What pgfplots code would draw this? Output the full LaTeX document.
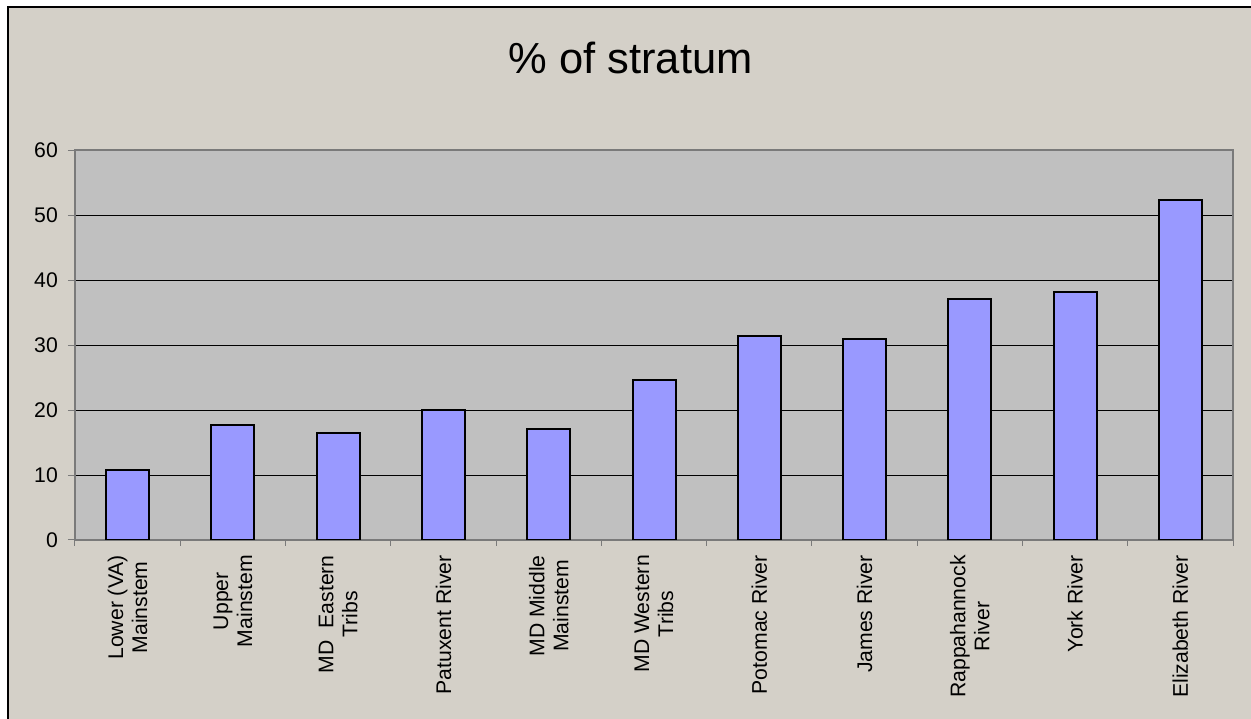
\documentclass[border=0pt]{standalone}
\usepackage{fontspec}
\setmainfont{Liberation Sans}
\usepackage{pgfplots}
\pgfplotsset{compat=1.18}
\definecolor{chartbg}{HTML}{D4D0C8}
\definecolor{plotbg}{HTML}{C0C0C0}
\definecolor{barfill}{HTML}{9999FF}
\definecolor{axgray}{HTML}{7A7A7A}
\begin{document}
\begin{tikzpicture}[x=1pt,y=1pt]
\useasboundingbox (0,0) rectangle (1251,719);
\fill[white] (0,0) rectangle (1251,719);
\fill[chartbg] (8,0) rectangle (1251,712);
\draw[black,line width=1.5pt] (8,-1) -- (8,712) -- (1252,712);
\node[anchor=base, inner sep=0pt, font=\fontsize{43.5}{50}\selectfont] at (630.5,645.7) {\% of stratum};
\begin{axis}[
  at={(75pt,179pt)}, anchor=south west,
  scale only axis, width=1158pt, height=389.7pt,
  xmin=-0.5, xmax=10.5, ymin=0, ymax=60,
  ytick={0,10,...,60},
  xtick={0,...,10},
  xticklabels={{Lower (VA)\\Mainstem},{Upper\\Mainstem},{MD\ \ Eastern\\Tribs},{Patuxent River},{MD Middle\\Mainstem},{MD Western\\Tribs},{Potomac River},{James River},{Rappahannock\\River},{York River},{Elizabeth River}},
  minor xtick={-0.5,0.5,...,10.5},
  xtick pos=bottom, ytick pos=left,
  tick align=outside,
  major x tick style={draw=none},
  minor x tick style={draw=axgray, line width=1pt},
  minor tick length=6pt,
  major y tick style={draw=axgray, line width=1pt},
  major tick length=7pt,
  axis background/.style={fill=plotbg},
  ymajorgrids, grid style={black, line width=0.8pt},
  axis line style={draw=axgray, line width=1.6pt},
  /pgf/number format/assume math mode=true,
  ticklabel style={font=\fontsize{21.2}{24}\selectfont},
  x tick label style={yshift=-8pt, rotate=90, anchor=east, align=center, inner sep=0pt},
  y tick label style={xshift=-10pt, anchor=east, inner sep=0pt},
  ybar, bar width=43pt,
]
\addplot[fill=barfill, draw=black, line width=2pt] coordinates {
 (0,10.8) (1,17.7) (2,16.5) (3,20.0) (4,17.1) (5,24.6) (6,31.4) (7,30.9) (8,37.1) (9,38.2) (10,52.3)
};
\end{axis}
\end{tikzpicture}
\end{document}
